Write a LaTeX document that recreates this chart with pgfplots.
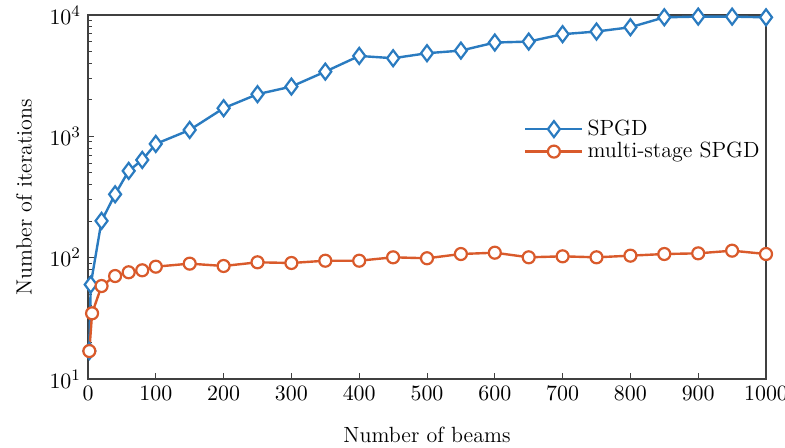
\documentclass[border=0pt]{standalone}
\usepackage{pgfplots}
\pgfplotsset{compat=1.18}
\definecolor{sblue}{HTML}{2A7BC0}
\definecolor{sorange}{HTML}{D95A2B}
\definecolor{axgray}{HTML}{404040}
\begin{document}
\begin{tikzpicture}
\begin{axis}[
  scale only axis,
  width=339pt, height=182pt,
  xmin=0, xmax=1000,
  ymode=log, ymin=10, ymax=10000,
  xtick={0,100,...,1000},
  xticklabel style={/pgf/number format/1000 sep={}},
  xtick pos=bottom, ytick pos=left,
  tick align=inside,
  major tick length=3pt, minor tick length=2pt,
  axis line style={axgray, line width=0.6pt},
  every tick/.style={axgray, line width=0.5pt},
  xlabel={Number of beams},
  ylabel={Number of iterations},
  xlabel style={yshift=-6.5pt},
  ylabel style={yshift=2pt},
  tick label style={font=\fontsize{11}{13}\selectfont},
  label style={font=\fontsize{11}{13}\selectfont},
  log basis y=10,
  clip=false,
  legend cell align=left,
  legend style={draw=none, fill=none, at={(0.634,0.735)}, anchor=north west, row sep=-2pt, font=\fontsize{11}{13}\selectfont},
  legend image code/.code={\draw[mark repeat=2,mark phase=2] plot coordinates {(0cm,0cm)(0.5cm,0cm)(1cm,0cm)};},
]
\addplot[sblue, line width=1.2pt, mark=diamond*, mark size=4pt, mark options={fill=white, line width=1.1pt}]
coordinates {
(2,17) (4,60) (20,201) (40,333) (60,519) (80,639) (100,866) (150,1129) (200,1706)
(250,2225) (300,2571) (350,3415) (400,4600) (450,4405) (500,4843) (550,5090)
(600,5930) (650,6040) (700,6950) (750,7310) (800,7930) (850,9570) (900,9700)
(950,9700) (1000,9570)
};
\addlegendentry{SPGD}
\addplot[sorange, line width=1.2pt, mark=*, mark size=3pt, mark options={fill=white, line width=1.1pt}]
coordinates {
(2,17) (6,34.8) (20,58.4) (40,70.6) (60,75.8) (80,78.7) (100,84.3) (150,89.3) (200,85.4)
(250,91.6) (300,90.4) (350,94.4) (400,94.4) (450,100.7) (500,98.9) (550,107.2)
(600,109.9) (650,100.7) (700,102.6) (750,100.7) (800,103.9) (850,107.2) (900,108.6)
(950,114.2) (1000,107.2)
};
\addlegendentry{multi-stage SPGD}
\end{axis}
\pgfresetboundingbox
\path (-44pt,-34pt) rectangle (348.5pt,189.5pt);
\end{tikzpicture}
\end{document}
